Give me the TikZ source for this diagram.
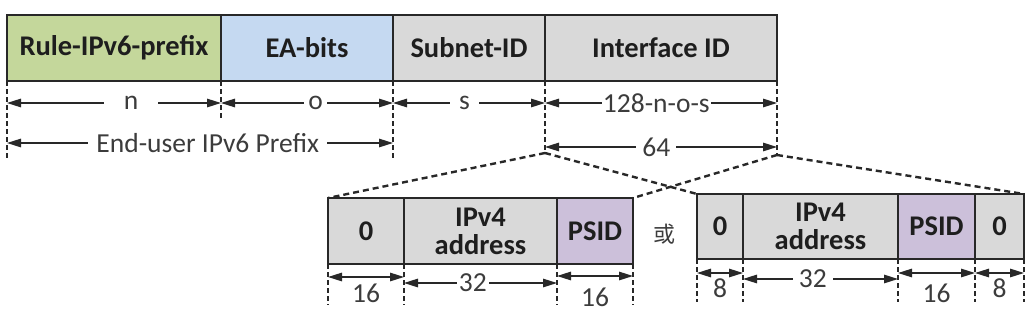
\documentclass[tikz,border=0pt]{standalone}
\usepackage{fontspec}
\setmainfont{Carlito}
\newfontfamily\cjkfont{Noto Sans CJK SC}
\usetikzlibrary{arrows.meta}
\definecolor{cgreen}{RGB}{196,215,155}
\definecolor{cblue}{RGB}{197,217,241}
\definecolor{cgray}{RGB}{217,217,217}
\definecolor{cpurple}{RGB}{204,192,218}
\definecolor{boxline}{RGB}{40,40,40}
\definecolor{textdark}{RGB}{30,30,30}
\definecolor{textgray}{RGB}{60,60,60}
\begin{document}
\begin{tikzpicture}[x=1pt,y=-1pt,
  field/.style={draw=boxline, line width=1.8pt, anchor=north west, inner sep=0pt, outer sep=0pt,
    font=\bfseries\fontsize{28.5}{28}\selectfont, text=textdark, align=center},
  tick/.style={draw=boxline, line width=2.4pt, dash pattern=on 5pt off 3pt},
  zoomline/.style={draw=boxline, line width=2.4pt, dash pattern=on 6pt off 4pt},
  dimarrow/.style={draw=boxline, line width=1.4pt,
    {Triangle[length=14pt,width=8.5pt]}-{Triangle[length=14pt,width=8.5pt]}},
  dimlabel/.style={fill=white, font=\fontsize{27.5}{28}\selectfont, text=textgray, inner ysep=0pt},
  sublabel/.style={font=\fontsize{27.5}{28}\selectfont, text=textgray, inner sep=0pt}
]
\useasboundingbox (0,0) rectangle (1032,313);

% top fields
\node[field, fill=cgreen, minimum width=214pt, minimum height=66pt] (rp) at (7,15) {Rule-IPv6-prefix};
\node[field, fill=cblue, minimum width=172pt, minimum height=66pt] (ea) at (221,15) {EA-bits};
\node[field, fill=cgray, minimum width=152pt, minimum height=66pt] (sn) at (393,15) {Subnet-ID};
\node[field, fill=cgray, minimum width=232pt, minimum height=66pt] (ifid) at (545,15) {Interface ID};

% rows
\coordinate (r1) at (0,103);
\coordinate (r2) at (0,143);
\coordinate (r3) at (0,147);

% tick ends
\coordinate (t0) at (7,160);
\coordinate (t1) at (221,119);
\coordinate (t2) at (393,160);
\coordinate (t3) at (545,153);
\coordinate (t4) at (777,155);

\draw[tick] (rp.south west) -- (t0);
\draw[tick] (rp.south east) -- (t1);
\draw[tick] (ea.south east) -- (t2);
\draw[tick] (sn.south east) -- (t3);
\draw[tick] (ifid.south east) -- (t4);

\draw[dimarrow] (rp.south west |- r1) -- node[dimlabel, inner xsep=20pt, pos=0.58]{n} (rp.south east |- r1);
\draw[dimarrow] (ea.south west |- r1) -- node[dimlabel, inner xsep=4pt, pos=0.55]{o} (ea.south east |- r1);
\draw[dimarrow] (sn.south west |- r1) -- node[dimlabel, inner xsep=9pt, pos=0.47]{s} (sn.south east |- r1);
\draw[dimarrow] (ifid.south west |- r1) -- node[dimlabel, inner xsep=1pt, pos=0.48]{128-n-o-s} (ifid.south east |- r1);
\draw[dimarrow] (rp.south west |- r2) -- node[dimlabel, inner xsep=8pt, pos=0.52]{End-user IPv6 Prefix} (ea.south east |- r2);
\draw[dimarrow] (ifid.south west |- r3) -- node[dimlabel, inner xsep=6pt, pos=0.48]{64} (ifid.south east |- r3);

% lower left fields
\node[field, fill=cgray, minimum width=76pt, minimum height=66pt] (a1) at (328,198) {0};
\node[field, fill=cgray, minimum width=153pt, minimum height=66pt] (a2) at (404,198) {IPv4\\address};
\node[field, fill=cpurple, minimum width=76pt, minimum height=66pt] (a3) at (557,198) {PSID};

% lower right fields
\node[field, fill=cgray, minimum width=46pt, minimum height=65pt] (b1) at (697,194) {0};
\node[field, fill=cgray, minimum width=155pt, minimum height=65pt] (b2) at (743,194) {IPv4\\address};
\node[field, fill=cpurple, minimum width=77pt, minimum height=65pt] (b3) at (898,194) {PSID};
\node[field, fill=cgray, minimum width=49pt, minimum height=65pt] (b4) at (975,194) {0};

\node[font=\cjkfont\fontsize{22}{22}\selectfont, text=textgray] (or) at (664,234) {或};

% zoom lines
\draw[zoomline] (t3) -- (a1.north west);
\draw[zoomline] (t3) -- (b1.north west);
\draw[zoomline] (t4) -- (a3.north east);
\draw[zoomline] (t4) -- (b4.north east);

% lower left ticks
\coordinate (la) at (0,305);
\draw[tick] (a1.south west) -- (a1.south west |- la);
\draw[tick] (a1.south east) -- (a1.south east |- la);
\draw[tick] (a2.south east) -- (a2.south east |- la);
\draw[tick] (a3.south east) -- (a3.south east |- la);

\coordinate (ra1) at (0,277);
\coordinate (ra2) at (0,283);
\coordinate (ra3) at (0,276);
\draw[dimarrow] (a1.south west |- ra1) -- node[sublabel, below=6pt]{16} (a1.south east |- ra1);
\draw[dimarrow] (a2.south west |- ra2) -- node[dimlabel, inner xsep=2pt, pos=0.45]{32} (a2.south east |- ra2);
\draw[dimarrow] (a3.south west |- ra3) -- node[sublabel, below=11pt]{16} (a3.south east |- ra3);

% lower right ticks
\coordinate (lb) at (0,302);
\draw[tick] (b1.south west) -- (b1.south west |- lb);
\draw[tick] (b1.south east) -- (b1.south east |- lb);
\draw[tick] (b2.south east) -- (b2.south east |- lb);
\draw[tick] (b3.south east) -- (b3.south east |- lb);
\draw[tick] (b4.south east) -- (b4.south east |- lb);

\coordinate (rb1) at (0,273);
\coordinate (rb2) at (0,279);
\draw[dimarrow] (b1.south west |- rb1) -- node[sublabel, below=5pt]{8} (b1.south east |- rb1);
\draw[dimarrow] (b2.south west |- rb2) -- node[dimlabel, inner xsep=6pt, pos=0.45]{32} (b2.south east |- rb2);
\draw[dimarrow] (b3.south west |- rb1) -- node[sublabel, below=10pt]{16} (b3.south east |- rb1);
\draw[dimarrow] (b4.south west |- rb1) -- node[sublabel, below=5pt]{8} (b4.south east |- rb1);
\end{tikzpicture}
\end{document}
